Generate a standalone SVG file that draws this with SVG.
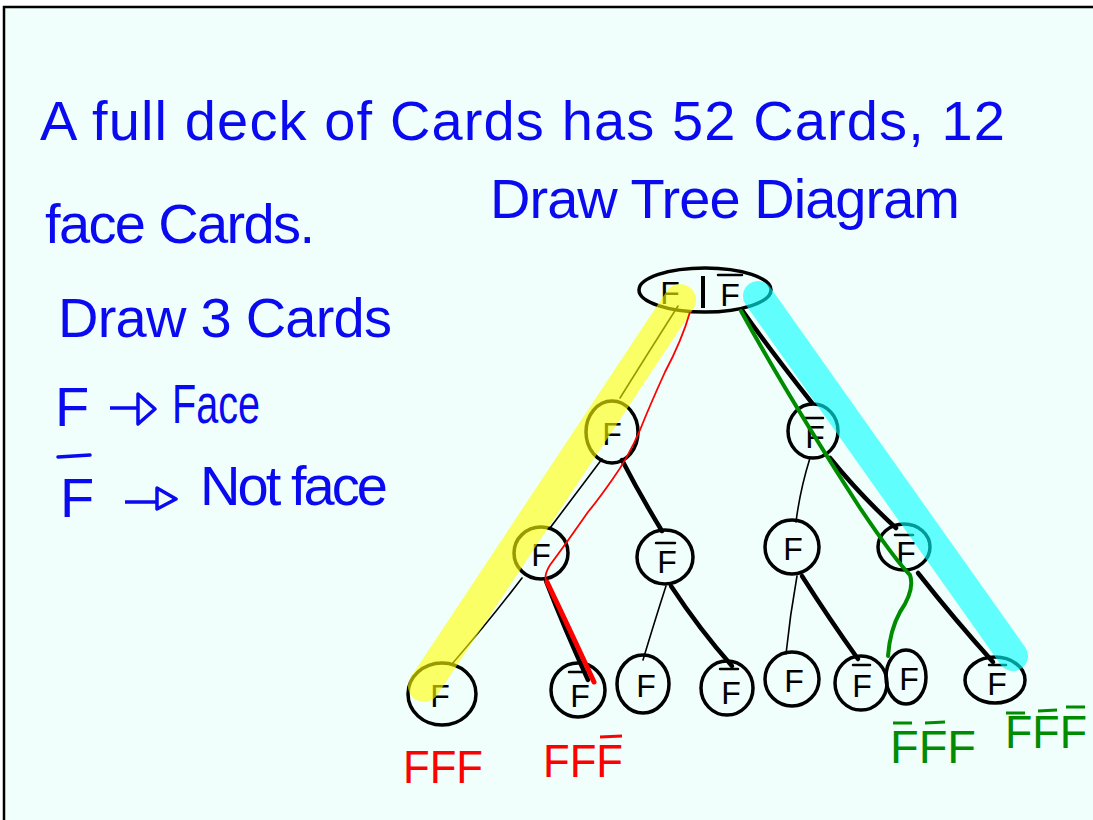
<svg xmlns="http://www.w3.org/2000/svg" width="1093" height="820" viewBox="0 0 1093 820">
  <style>
    .hand { font-family: "Liberation Sans", Arial, sans-serif; fill: #0a0af0; font-size: 56px; }
    .node { fill: none; stroke: #000; stroke-width: 3.5; }
    .lbl { font-family: "Liberation Sans", Arial, sans-serif; font-size: 32px; fill: #000; text-anchor: middle; }
    .bar { stroke: #000; stroke-width: 2.5; stroke-linecap: round; }
    .thin { stroke: #000; stroke-width: 1.6; fill: none; stroke-linecap: round; }
    .thick { stroke: #000; stroke-width: 4.5; fill: none; stroke-linecap: round; }
    .res { font-family: "Liberation Sans", Arial, sans-serif; font-size: 46px; }
    .bluebar { stroke: #0a0af0; stroke-width: 3.5; stroke-linecap: round; }
  </style>

  <!-- page -->
  <rect x="0" y="0" width="1093" height="820" fill="#ffffff"/>
  <rect x="4" y="7" width="1089" height="813" fill="#f0fffb"/>
  <path d="M4 820 V7 H1093" fill="none" stroke="#000" stroke-width="2.5"/>

  <!-- heading and notes -->
  <text class="hand" x="40" y="140" textLength="965" lengthAdjust="spacing">A full deck of Cards has 52 Cards, 12</text>
  <text class="hand" x="45" y="243" textLength="270" lengthAdjust="spacing">face Cards.</text>
  <text class="hand" x="490" y="218" textLength="470" lengthAdjust="spacing">Draw Tree Diagram</text>
  <text class="hand" x="58" y="337" textLength="334" lengthAdjust="spacing">Draw 3 Cards</text>

  <text class="hand" x="55" y="426">F</text>
  <path d="M110 408 H138 M138 394 L155 409 L138 424 Z" fill="none" stroke="#0a0af0" stroke-width="3.5" stroke-linejoin="round"/>
  <text class="hand" x="172" y="423" textLength="88" lengthAdjust="spacingAndGlyphs">Face</text>

  <line class="bluebar" x1="58" y1="457" x2="90" y2="455"/>
  <text class="hand" x="60" y="517">F</text>
  <path d="M125 502 H157 M157 488 L176 499 L157 509 Z" fill="none" stroke="#0a0af0" stroke-width="3.5" stroke-linejoin="round"/>
  <text class="hand" x="200" y="505" textLength="188" lengthAdjust="spacing">Not face</text>

  <!-- connectors -->
  <g id="connectors">
    <path class="thin" d="M678 306 Q650 350 620 398"/>
    <path class="thick" d="M742 310 Q770 350 812 403"/>
    <path class="thin" d="M602 459 Q575 495 550 528"/>
    <path class="thick" d="M622 460 Q640 495 662 531"/>
    <path class="thin" d="M810 458 Q800 490 796 522"/>
    <path class="thick" d="M830 458 Q860 495 896 528"/>
    <path class="thin" d="M522 578 Q490 620 452 664"/>
    <path class="thick" d="M546 581 Q565 630 588 680"/>
    <path class="thin" d="M666 586 Q655 620 643 660"/>
    <path class="thick" d="M671 586 Q700 630 732 666"/>
    <path class="thin" d="M797 576 Q790 615 786 654"/>
    <path class="thick" d="M802 576 Q830 620 858 659"/>
    <path class="thick" d="M918 573 Q955 620 993 662"/>
  </g>

  <!-- nodes -->
  <g id="root">
    <ellipse class="node" cx="705" cy="290" rx="66" ry="22"/>
    <text class="lbl" x="670" y="304">F</text>
    <line x1="703" y1="276" x2="703" y2="308" stroke="#000" stroke-width="4"/>
    <line class="bar" x1="718" y1="275" x2="742" y2="275"/>
    <text class="lbl" x="730" y="306">F</text>
  </g>

  <g id="n1-F"><ellipse class="node" cx="612" cy="432" rx="26" ry="31"/><text class="lbl" x="612" y="445">F</text></g>
  <g id="n1-Fbar"><ellipse class="node" cx="813" cy="431" rx="25" ry="27"/><line class="bar" x1="805" y1="418" x2="823" y2="418"/><text class="lbl" x="815" y="448">F</text></g>

  <g id="n2-F1"><ellipse class="node" cx="541" cy="553" rx="27" ry="26"/><text class="lbl" x="541" y="566">F</text></g>
  <g id="n2-Fbar1"><ellipse class="node" cx="665" cy="557" rx="28" ry="27"/><line class="bar" x1="656" y1="543" x2="675" y2="543"/><text class="lbl" x="667" y="573">F</text></g>
  <g id="n2-F2"><ellipse class="node" cx="792" cy="547" rx="27" ry="27"/><text class="lbl" x="793" y="560">F</text></g>
  <g id="n2-Fbar2"><ellipse class="node" cx="904" cy="547" rx="26" ry="23"/><line class="bar" x1="895" y1="535" x2="913" y2="535"/><text class="lbl" x="906" y="564">F</text></g>

  <g id="leaf1"><ellipse class="node" cx="442" cy="694" rx="34" ry="31"/><text class="lbl" x="440" y="707">F</text></g>
  <g id="leaf2"><ellipse class="node" cx="578" cy="690" rx="27" ry="27"/><line class="bar" x1="569" y1="672" x2="587" y2="672"/><text class="lbl" x="580" y="707">F</text></g>
  <g id="leaf3"><ellipse class="node" cx="643" cy="684" rx="26" ry="29"/><text class="lbl" x="646" y="697">F</text></g>
  <g id="leaf4"><ellipse class="node" cx="727" cy="688" rx="26" ry="27"/><line class="bar" x1="720" y1="669" x2="738" y2="669"/><text class="lbl" x="731" y="704">F</text></g>
  <g id="leaf5"><ellipse class="node" cx="792" cy="679" rx="27" ry="27"/><text class="lbl" x="794" y="692">F</text></g>
  <g id="leaf6"><ellipse class="node" cx="861" cy="683" rx="26" ry="27"/><line class="bar" x1="853" y1="665" x2="870" y2="665"/><text class="lbl" x="862" y="697">F</text></g>
  <g id="leaf7"><ellipse class="node" cx="906" cy="677" rx="20" ry="27"/><text class="lbl" x="909" y="690">F</text></g>
  <g id="leaf8"><ellipse class="node" cx="995" cy="680" rx="30" ry="23"/><line class="bar" x1="989" y1="665" x2="1006" y2="665"/><text class="lbl" x="997" y="695">F</text></g>

  <!-- highlighted paths -->
  <line x1="680" y1="300" x2="424" y2="686" stroke="#ffff00" stroke-opacity="0.6" stroke-width="32" stroke-linecap="round"/>
  <line x1="758" y1="296" x2="1013" y2="656" stroke="#00ffff" stroke-opacity="0.6" stroke-width="30" stroke-linecap="round"/>
  <path d="M690 312 Q682 340 665 372 Q650 405 640 430 Q628 458 612 480 Q598 500 588 512 Q565 545 550 565 Q544 575 546 580" fill="none" stroke="#ff0000" stroke-width="1.8"/>
  <path d="M547 582 Q570 630 594 682" fill="none" stroke="#ff0000" stroke-width="5" stroke-linecap="round"/>
  <path d="M741 311 Q790 400 860 508 Q895 560 910 575 Q915 590 900 612 Q890 630 888 656" fill="none" stroke="#008c00" stroke-width="4" stroke-linecap="round"/>

  <!-- outcomes -->
  <text class="res" x="403" y="783" fill="#ff0000" textLength="80" lengthAdjust="spacingAndGlyphs">FFF</text>
  <text class="res" x="543" y="777" fill="#ff0000" textLength="80" lengthAdjust="spacingAndGlyphs">FFF</text>
  <line x1="600" y1="737" x2="622" y2="736" stroke="#ff0000" stroke-width="3"/>

  <text class="res" x="890" y="763" fill="#008c00" textLength="86" lengthAdjust="spacingAndGlyphs">FFF</text>
  <line x1="893" y1="723" x2="912" y2="723" stroke="#008c00" stroke-width="3"/>
  <line x1="925" y1="723" x2="945" y2="722" stroke="#008c00" stroke-width="3"/>
  <text class="res" x="1005" y="748" fill="#008c00" textLength="82" lengthAdjust="spacingAndGlyphs">FFF</text>
  <line x1="1006" y1="713" x2="1025" y2="713" stroke="#008c00" stroke-width="3"/>
  <line x1="1038" y1="711" x2="1057" y2="710" stroke="#008c00" stroke-width="3"/>
  <line x1="1066" y1="707" x2="1085" y2="707" stroke="#008c00" stroke-width="3"/>
</svg>
